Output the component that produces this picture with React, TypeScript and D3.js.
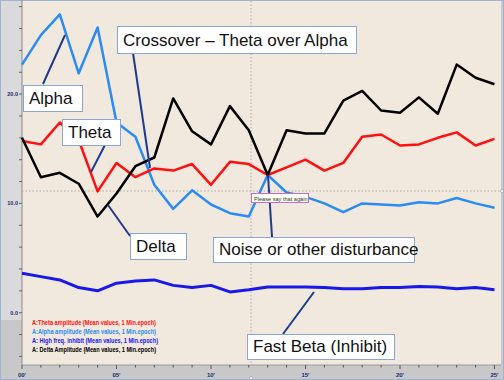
import React from "react";
import * as d3 from "d3";

const minutes = d3.range(0, 26);
const thetaValues = [15.7, 15.4, 17.4, 15.8, 11.1, 13.7, 12.4, 13.2, 13.0, 13.6, 11.7, 13.8, 13.6, 12.6, 13.3, 14.0, 13.0, 13.7, 16.1, 16.3, 15.3, 15.4, 16.0, 16.5, 15.3, 15.9];
const alphaValues = [22.7, 25.4, 27.3, 21.9, 26.1, 17.4, 16.1, 11.7, 9.5, 11.2, 9.9, 9.1, 8.8, 12.6, 11.0, 10.6, 10.0, 9.2, 10.0, 9.9, 9.8, 10.1, 10.0, 10.5, 10.0, 9.6];
const inhibitValues = [3.6, 3.3, 3.0, 2.3, 2.0, 2.7, 2.9, 3.0, 2.5, 2.3, 2.5, 1.9, 2.1, 2.35, 2.35, 2.35, 2.3, 2.2, 2.2, 2.3, 2.3, 2.4, 2.35, 2.2, 2.3, 2.1];
const deltaValues = [16.0, 12.4, 12.8, 11.8, 8.8, 10.9, 13.4, 14.2, 19.6, 16.6, 15.4, 18.9, 16.7, 12.6, 16.7, 16.4, 16.4, 19.4, 20.3, 18.5, 18.3, 19.7, 18.2, 22.7, 21.5, 20.9];

const seriesNames = ["A:Theta amplitude (Mean values, 1 Min.epoch)", "A:Alpha amplitude (Mean values, 1 Min.epoch)", "A: High freq. inhibit (Mean values, 1 Min.epoch)", "A: Delta Amplitude (Mean values, 1 Min.epoch)"];
const xTickLabels = ["00'", "05'", "10'", "15'", "20'", "25'"];
const xTickValues = [0, 5, 10, 15, 20, 25];
const yTickLabels = ["0.0", "10.0", "20.0"];
const yTickValues = [0, 10, 20];

const W = 504, H = 380;
const PL = 22, PR = 501, PT = 1, PB = 365;

const colors = ["#ff1010", "#2a8cf2", "#1818e8", "#000000"];

const annotations = [
  { text: "Alpha", box: [23, 85, 59, 26], line: [43, 84, 65, 35] },
  { text: "Theta", box: [62, 119, 58, 26], line: [105, 145, 91, 172] },
  { text: "Crossover \u2013 Theta over Alpha", box: [117, 26, 239, 27], line: [133, 53, 150, 168] },
  { text: "Delta", box: [130, 233, 56, 26], line: [108, 205, 130, 236] },
  { text: "Noise or other disturbance", box: [213, 237, 201, 25], line: [268, 175, 272, 237] },
  { text: "Fast Beta (Inhibit)", box: [247, 334, 147, 25], line: [283, 334, 314, 292] },
];

export default function App() {
  const x = d3.scaleLinear().domain([0, 25]).range([22, 494.5]);
  const y = d3.scaleLinear().domain([0, 20]).range([312.7, 94.1]);
  const line = d3.line<number>().x((_, i) => x(minutes[i])).y((d) => y(d));
  const all = [thetaValues, alphaValues, inhibitValues, deltaValues];
  const drawOrder = [2, 1, 0, 3];
  const yMinor = d3.range(-4, 29, 2);
  const xMinor = d3.range(0, 26, 1);
  return (
    <svg width={W} height={H} style={{ position: "absolute", left: 0, top: 0, fontFamily: "Liberation Sans, Arial, sans-serif" }}>
      <rect x={0} y={0} width={W} height={H} fill="#c8c8c8" />
      <rect x={0} y={0} width={PL} height={320} fill="#dadada" />
      <rect x={PL} y={PT} width={PR - PL} height={PB - PT} fill="#f2e9de" />
      <rect x={0.5} y={0.5} width={W - 1} height={H - 1} fill="none" stroke="#9fb3d6" />
      <line x1={PL} x2={PL} y1={0} y2={PB} stroke="#8a8a8a" strokeWidth={1} />
      <line x1={PL} x2={PR} y1={PB} y2={PB} stroke="#9a9a9a" strokeWidth={1} />
      {yMinor.map((v) => (
        <line key={"yt" + v} x1={19} x2={PL} y1={y(v)} y2={y(v)} stroke="#666" strokeWidth={1} />
      ))}
      {xMinor.map((m) => (
        <line key={"xt" + m} x1={x(m)} x2={x(m)} y1={PB} y2={PB + (m % 5 === 0 ? 4 : 2.5)} stroke="#555" strokeWidth={1} />
      ))}
      {yTickValues.map((v, i) => (
        <text key={"yl" + v} x={18} y={y(v) + 2} textAnchor="end" fontSize={5.5} fontWeight="bold" fill="#1c2a6b">{yTickLabels[i]}</text>
      ))}
      {xTickValues.map((v, i) => (
        <text key={"xl" + v} x={x(v)} y={377} textAnchor="middle" fontSize={6} fontWeight="bold" fill="#1c2a6b">{xTickLabels[i]}</text>
      ))}
      <line x1={251} x2={251} y1={PT} y2={PB} stroke="#a8a8a8" strokeDasharray="1.5,2" />
      <line x1={PL} x2={PR} y1={191} y2={191} stroke="#a8a8a8" strokeDasharray="1.5,2" />
      <circle cx={251} cy={378} r={1.5} fill="#fff" stroke="#888" strokeWidth={0.5} />
      <circle cx={502} cy={191} r={1.5} fill="#fff" stroke="#888" strokeWidth={0.5} />
      {drawOrder.map((k) => (
        <path key={"s" + k} d={line(all[k]) || ""} fill="none" stroke={colors[k]} strokeWidth={k === 2 ? 3 : 2.5} strokeLinejoin="round" />
      ))}
      {seriesNames.map((n, i) => (
        <text key={"lg" + i} x={32} y={325 + i * 9.1} fontSize={7.5} fontWeight="bold" fill={colors[i]} textLength={i === 2 ? 126 : 124} lengthAdjust="spacingAndGlyphs">{n}</text>
      ))}
      {annotations.map((a, i) => (
        <g key={"an" + i}>
          <line x1={a.line[0]} y1={a.line[1]} x2={a.line[2]} y2={a.line[3]} stroke="#1f3a8f" strokeWidth={2} />
          <rect x={a.box[0] + 0.5} y={a.box[1] + 0.5} width={a.box[2]} height={a.box[3]} fill="#ffffff" stroke="#8aa6d2" strokeWidth={1} />
          <text x={a.box[0] + 6} y={a.box[1] + a.box[3] - 7} fontSize={17} fill="#111">{a.text}</text>
        </g>
      ))}
      <g>
        <rect x={251.5} y={193.5} width={57} height={9} fill="#fffff6" stroke="#c86cc8" strokeWidth={1} />
        <text x={254} y={200.5} fontSize={5.6} fill="#333">Please say that again</text>
      </g>
    </svg>
  );
}
